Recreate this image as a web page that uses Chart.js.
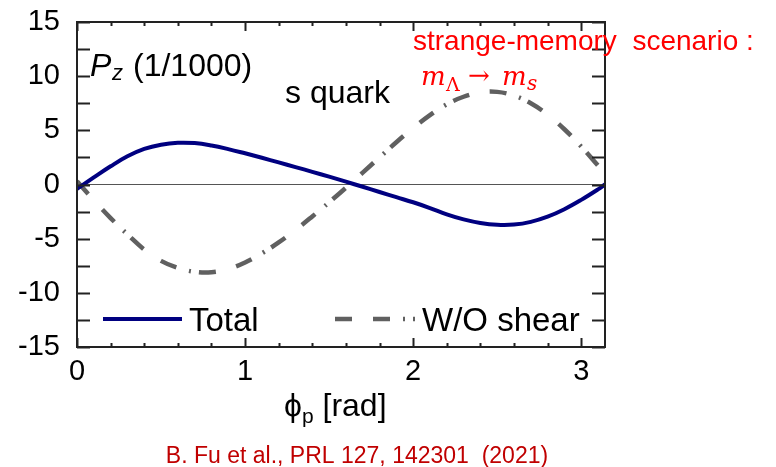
<!DOCTYPE html>
<html>
<head>
<meta charset="utf-8">
<script src="https://cdn.jsdelivr.net/npm/chart.js@4"></script>
<style>
  html, body { margin: 0; padding: 0; background: #fff; }
  #wrap { width: 776px; height: 467px; }
</style>
</head>
<body>
<div id="wrap"><canvas id="pz" width="776" height="467"></canvas></div>
<script>
// azimuthal angle phi_p [rad]
const phi = [0, 0.1, 0.2, 0.3, 0.4, 0.5, 0.6, 0.7, 0.8, 0.9, 1.0, 1.1, 1.2, 1.3, 1.4, 1.5, 1.6,
             1.7, 1.8, 1.9, 2.0, 2.1, 2.2, 2.3, 2.4, 2.5, 2.6, 2.7, 2.8, 2.9, 3.0, 3.1, 3.1416];

// P_z (1/1000), s quark
const totalPz = [-0.4, 0.65, 1.68, 2.6, 3.28, 3.67, 3.85, 3.82, 3.6, 3.27, 2.88, 2.47, 2.04, 1.61, 1.17, 0.72, 0.26,
                 -0.21, -0.69, -1.17, -1.64, -2.17, -2.75, -3.22, -3.55, -3.72, -3.7, -3.45, -2.97, -2.28, -1.42, -0.45, 0.0];
const noShearPz = [0.3, -1.45, -3.1, -4.6, -6.0, -7.05, -7.7, -8.05, -8.1, -7.8, -7.2, -6.35, -5.35, -4.2, -2.95, -1.65, -0.3,
                   1.1, 2.5, 3.9, 5.2, 6.4, 7.4, 8.1, 8.5, 8.55, 8.2, 7.5, 6.45, 5.1, 3.5, 1.75, 1.0];

const seriesLabels = ['Total', 'W/O shear'];
const xTicks = [0, 1, 2, 3];
const yTicks = [15, 10, 5, 0, -5, -10, -15];

const FONT = '"Liberation Sans", Arial, sans-serif';
const SERIF = '"DejaVu Serif", "Liberation Serif", serif';
const NAVY = '#000080';
const GREY = '#606060';

const toPoints = (ys) => ys.map((y, i) => ({ x: phi[i], y: y }));

// frame, inward ticks, zero line and all the free text
const decorations = {
  id: 'decorations',
  beforeDatasetsDraw(chart) {
    const { ctx, chartArea: a, scales: { y } } = chart;
    const y0 = y.getPixelForValue(0);
    ctx.save();
    ctx.strokeStyle = '#555';
    ctx.lineWidth = 1;
    ctx.beginPath();
    ctx.moveTo(a.left, y0);
    ctx.lineTo(a.right, y0);
    ctx.stroke();
    ctx.restore();
  },
  afterDraw(chart) {
    const { ctx, chartArea: a, scales: { x, y } } = chart;
    ctx.save();
    ctx.strokeStyle = '#222';
    ctx.lineWidth = 2;
    ctx.strokeRect(a.left, a.top, a.right - a.left, a.bottom - a.top);

    // x ticks every 0.2, top and bottom
    ctx.beginPath();
    for (let i = 0; i * 0.2 <= Math.PI; i++) {
      const px = Math.round(x.getPixelForValue(i * 0.2)) + 0.5;
      const len = (i % 5 === 0) ? 9 : 4;
      ctx.moveTo(px, a.bottom);
      ctx.lineTo(px, a.bottom - len);
      ctx.moveTo(px, a.top);
      ctx.lineTo(px, a.top + len);
    }
    // y ticks every 2.5, left and right
    for (let v = -15; v <= 15; v += 2.5) {
      const py = Math.round(y.getPixelForValue(v)) + 0.5;
      ctx.moveTo(a.left, py);
      ctx.lineTo(a.left + 13, py);
      ctx.moveTo(a.right, py);
      ctx.lineTo(a.right - 13, py);
    }
    ctx.stroke();

    ctx.fillStyle = '#000';
    ctx.textBaseline = 'alphabetic';
    ctx.textAlign = 'left';

    // P_z (1/1000)
    ctx.font = 'italic 32px ' + FONT;
    ctx.fillText('P', 90, 76);
    ctx.font = 'italic 22px ' + FONT;
    ctx.fillText('z', 112, 80);
    ctx.font = '32px ' + FONT;
    ctx.fillText('(1/1000)', 133, 76);

    ctx.fillText('s quark', 285, 103);

    // x axis title
    ctx.font = '32px ' + FONT;
    ctx.fillText('\u03D5', 284, 416);
    const w = ctx.measureText('\u03D5').width;
    ctx.font = '21px ' + FONT;
    ctx.fillText('p', 284 + w, 423);
    const wp = ctx.measureText('p').width;
    ctx.font = '32px ' + FONT;
    ctx.fillText(' [rad]', 284 + w + wp, 416);

    // legend, styles taken from the datasets
    const ds = chart.data.datasets;
    const ly = 319;
    ctx.lineWidth = ds[0].borderWidth;
    ctx.strokeStyle = ds[0].borderColor;
    ctx.beginPath();
    ctx.moveTo(103, ly);
    ctx.lineTo(182, ly);
    ctx.stroke();
    ctx.lineWidth = ds[1].borderWidth;
    ctx.strokeStyle = ds[1].borderColor;
    ctx.setLineDash(ds[1].borderDash);
    ctx.beginPath();
    ctx.moveTo(335, ly);
    ctx.lineTo(415, ly);
    ctx.stroke();
    ctx.setLineDash([]);
    ctx.font = '33px ' + FONT;
    ctx.fillStyle = '#000';
    ctx.fillText(ds[0].label, 189, 331);
    ctx.fillText(ds[1].label, 422, 331);

    // scenario note
    ctx.fillStyle = '#ff0000';
    ctx.font = '28px ' + FONT;
    ctx.fillText('strange-memory  scenario :', 413, 50);
    ctx.font = 'italic 26px ' + SERIF;
    ctx.fillText('m', 421, 85);
    ctx.font = '19px ' + SERIF;
    ctx.fillText('\u039B', 446, 91);
    ctx.font = '26px ' + SERIF;
    ctx.fillText('\u2192', 468, 84);
    ctx.font = 'italic 26px ' + SERIF;
    ctx.fillText('m', 502, 85);
    ctx.font = 'italic 20px ' + SERIF;
    ctx.fillText('s', 527, 90);

    // reference
    ctx.fillStyle = '#c00000';
    ctx.font = '23px ' + FONT;
    ctx.textAlign = 'center';
    ctx.fillText('B. Fu et al., PRL 127, 142301  (2021)', 357, 463);
    ctx.restore();
  }
};

const noEdgePadding = (s) => {
  s.paddingTop = 0;
  s.paddingBottom = 0;
  s.paddingLeft = 0;
  s.paddingRight = 0;
};

new Chart(document.getElementById('pz'), {
  type: 'line',
  data: {
    datasets: [
      {
        label: seriesLabels[0],
        data: toPoints(totalPz),
        borderColor: NAVY,
        borderWidth: 4,
        pointRadius: 0,
        tension: 0.4,
        fill: false
      },
      {
        label: seriesLabels[1],
        data: toPoints(noShearPz),
        borderColor: GREY,
        borderWidth: 4.5,
        borderDash: [17, 21, 17, 13, 2, 8],
        pointRadius: 0,
        tension: 0.4,
        fill: false
      }
    ]
  },
  options: {
    responsive: false,
    animation: false,
    layout: { padding: { left: 0, right: 171, top: 22, bottom: 0 } },
    plugins: { legend: { display: false }, tooltip: { enabled: false } },
    scales: {
      x: {
        type: 'linear',
        min: 0,
        max: Math.PI,
        grid: { display: false, drawTicks: false },
        border: { display: false },
        afterFit: (s) => { s.height = 120; noEdgePadding(s); },
        afterBuildTicks: (s) => { s.ticks = xTicks.map(v => ({ value: v })); },
        ticks: {
          padding: 8,
          color: '#000',
          maxRotation: 0,
          autoSkip: false,
          font: { family: FONT, size: 29 },
          callback: (v) => String(v)
        }
      },
      y: {
        min: -15,
        max: 15,
        grid: { display: false, drawTicks: false },
        border: { display: false },
        afterFit: (s) => { s.width = 77; noEdgePadding(s); },
        afterBuildTicks: (s) => { s.ticks = yTicks.map(v => ({ value: v })); },
        ticks: {
          padding: 17,
          color: '#000',
          font: { family: FONT, size: 29 },
          callback: (v) => String(v)
        }
      }
    }
  },
  plugins: [decorations]
});
</script>
</body>
</html>
